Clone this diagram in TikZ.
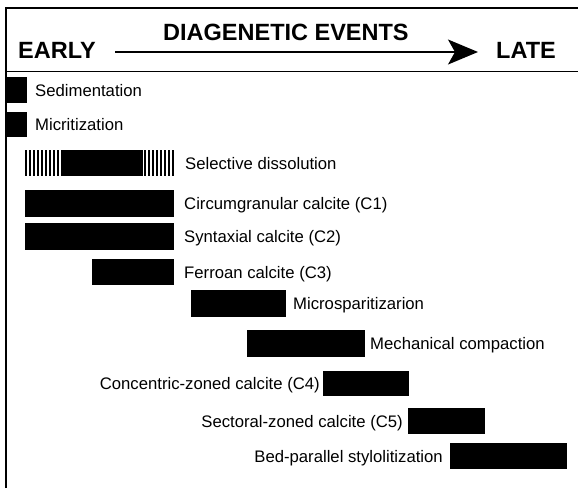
\documentclass[tikz,border=0pt]{standalone}
\usepackage{fontspec}
\setmainfont{Liberation Sans}
\usetikzlibrary{arrows.meta}
\begin{document}
\begin{tikzpicture}[x=1pt,y=-1pt,
  bar/.style={fill=black, draw=none, inner sep=0, anchor=north west},
  lbl/.style={font=\fontsize{16.7}{18}\selectfont, inner sep=0, text height=12pt, text depth=0pt},
  hdr/.style={font=\fontsize{23.5}{26}\selectfont\bfseries, inner sep=0, text height=16.8pt, text depth=0pt},
  frame/.style={line width=2.2pt},
  stripe/.style={line width=2pt}]
\useasboundingbox (0,0) rectangle (578,488);
% frame
\draw[frame] (6,488) -- (6,8) -- (578,8);
\draw[line width=1pt] (6,71) -- (578,71);
% header
\node[hdr, anchor=west] (early) at (18,50) {EARLY};
\node[hdr, anchor=west] (late) at (496,50) {LATE};
\node[hdr, anchor=west] (title) at (163,32) {DIAGENETIC EVENTS};
\coordinate (astart) at (115,52);
\coordinate (aend) at (478,52);
\draw[line width=1.6pt, -{Stealth[length=30pt,width=25pt,inset=7pt]}] (astart) -- (aend);
% bars
\node[bar, minimum width=21, minimum height=26] (sed) at (6,77) {};
\node[bar, minimum width=21, minimum height=25] (mic) at (6,112) {};
\node[bar, minimum width=80, minimum height=26] (sel) at (63,150) {};
\foreach \x in {26,30,...,62} \draw[stripe] (\x,150) -- (\x,176);
\foreach \x in {145,149,...,173} \draw[stripe] (\x,150) -- (\x,176);
\node[bar, minimum width=149, minimum height=27] (c1) at (25,190) {};
\node[bar, minimum width=149, minimum height=27] (c2) at (25,223) {};
\node[bar, minimum width=82, minimum height=26] (c3) at (92,259) {};
\node[bar, minimum width=95, minimum height=27] (msp) at (191,290) {};
\node[bar, minimum width=118, minimum height=27] (mec) at (247,330) {};
\node[bar, minimum width=86, minimum height=25] (c4) at (323,371) {};
\node[bar, minimum width=77, minimum height=26] (c5) at (408,408) {};
\node[bar, minimum width=117, minimum height=26] (bed) at (450,443) {};
% labels
\node[lbl, anchor=west] (tsed) at (35,90) {Sedimentation};
\node[lbl, anchor=west] (tmic) at (35,124.5) {Micritization};
\node[lbl, anchor=west] (tsel) at (185,163) {Selective dissolution};
\node[lbl, anchor=west] (tc1) at (184,203.5) {Circumgranular calcite (C1)};
\node[lbl, anchor=west] (tc2) at (184,236.5) {Syntaxial calcite (C2)};
\node[lbl, anchor=west] (tc3) at (184,272) {Ferroan calcite (C3)};
\node[lbl, anchor=west] (tmsp) at (293,303.5) {Microsparitizarion};
\node[lbl, anchor=west] (tmec) at (370,343.5) {Mechanical compaction};
\node[lbl, anchor=east] (tc4) at (320,383.5) {Concentric-zoned calcite (C4)};
\node[lbl, anchor=east] (tc5) at (403,421) {Sectoral-zoned calcite (C5)};
\node[lbl, anchor=east] (tbed) at (443,456) {Bed-parallel stylolitization};
\end{tikzpicture}
\end{document}
